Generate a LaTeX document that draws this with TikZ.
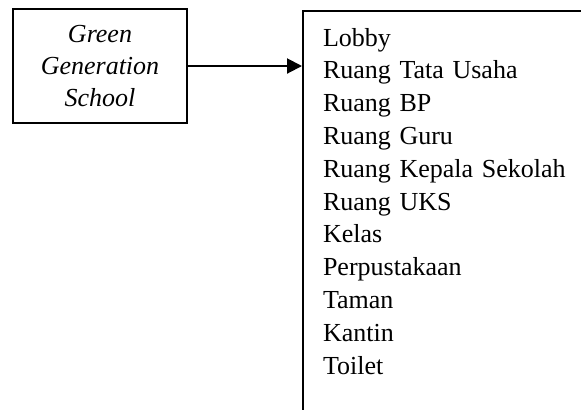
\documentclass[tikz,border=0pt]{standalone}
\usepackage{fontspec}
\setmainfont{Liberation Serif}
\usetikzlibrary{arrows.meta}

\begin{document}
\begin{tikzpicture}[>={Triangle[length=7.5pt,width=7.5pt]},line width=1pt,x=0.5pt,y=-0.5pt,
    every node/.style={font=\fontsize{13}{16.4}\selectfont}]
  \useasboundingbox (0,0) rectangle (581,409);
  \clip (0,0) rectangle (581,409);

  % Nodes
  \node[draw, minimum width=87pt, minimum height=57pt, align=center,
        font=\fontsize{13}{15.8}\selectfont\itshape] (School) at (100,66)
    {Green\\Generation\\School};
  \node[draw, anchor=north west, align=left, text width=200pt,
        inner xsep=10pt, inner ysep=8.8pt, text depth=230pt] (Rooms) at (302,9.5)
    {Lobby\\Ruang Tata Usaha\\Ruang BP\\Ruang Guru\\Ruang Kepala Sekolah\\Ruang UKS\\Kelas\\Perpustakaan\\Taman\\Kantin\\Toilet};

  % Arrows
  \draw[->] (School.east) -- (School.east -| Rooms.west);
\end{tikzpicture}
\end{document}
